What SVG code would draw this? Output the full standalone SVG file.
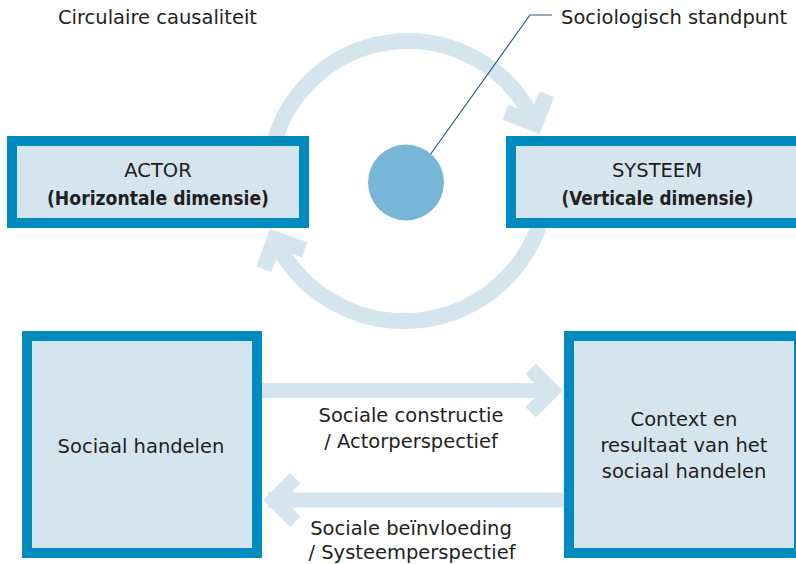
<svg xmlns="http://www.w3.org/2000/svg" width="796" height="564" viewBox="0 0 796 564">
  <style>
    .t { font-family: "DejaVu Sans", "Liberation Sans", sans-serif; font-size: 19.5px; fill: #231f20; }
    .c { text-anchor: middle; }
    .b { font-weight: bold; font-size: 19px; }
    .box { fill: #d5e5f0; stroke: #008bbf; stroke-width: 10; }
    .band { fill: none; stroke: #d5e5f0; stroke-width: 16; stroke-linejoin: miter; stroke-miterlimit: 10; }
    .hband { fill: none; stroke: #d5e5f0; stroke-width: 15; stroke-linejoin: miter; stroke-miterlimit: 10; }
  </style>
  <rect width="796" height="564" fill="#ffffff"/>
  <g id="connectors">
    <path class="band" d="M270.4,160.7 A139,139 0 0 1 535.2,123.9"/>
    <path class="band" d="M505.4,112.3 L535.2,123.9 L546.8,94.1"/>
    <path class="band" d="M543.9,207.7 A143,143 0 0 1 274.7,239.1"/>
    <path class="band" d="M263.9,269.2 L274.7,239.1 L304.8,249.9"/>
    <path class="hband" d="M262,390.5 L548,390.5"/>
    <path class="hband" d="M530.7,368.8 L552.4,390.5 L530.7,412.2"/>
    <path class="hband" d="M268,500 L564,500"/>
    <path class="hband" d="M295.3,478.3 L273.6,500 L295.3,521.7"/>
    <polyline points="430,155 530,15 552,15" fill="none" stroke="#2f5a7e" stroke-width="1.2"/>
  </g>
  <g id="label-circulaire">
    <text class="t" x="58" y="24">Circulaire causaliteit</text>
  </g>
  <g id="label-standpunt">
    <text class="t" x="561" y="24">Sociologisch standpunt</text>
  </g>
  <g id="standpunt">
    <circle cx="406" cy="182.5" r="38" fill="#77b6d7"/>
  </g>
  <g id="actor">
    <rect class="box" x="12" y="141" width="292" height="82"/>
    <text class="t c" x="158" y="177">ACTOR</text>
    <text class="t c b" x="158" y="205" textLength="222" lengthAdjust="spacingAndGlyphs">(Horizontale dimensie)</text>
  </g>
  <g id="systeem">
    <rect class="box" x="511" y="141" width="292" height="82"/>
    <text class="t c" x="657" y="177">SYSTEEM</text>
    <text class="t c b" x="657.5" y="205" textLength="192" lengthAdjust="spacingAndGlyphs">(Verticale dimensie)</text>
  </g>
  <g id="sociaal-handelen">
    <rect class="box" x="27" y="336" width="230" height="217"/>
    <text class="t c" x="141" y="453">Sociaal handelen</text>
  </g>
  <g id="context">
    <rect class="box" x="569" y="336" width="230" height="217"/>
    <text class="t c" x="684" y="426">Context en</text>
    <text class="t c" x="684" y="452">resultaat van het</text>
    <text class="t c" x="684" y="478">sociaal handelen</text>
  </g>
  <g id="label-constructie">
    <text class="t c" x="411" y="422">Sociale constructie</text>
    <text class="t c" x="411" y="448">/ Actorperspectief</text>
  </g>
  <g id="label-beinvloeding">
    <text class="t c" x="411" y="535">Sociale beïnvloeding</text>
    <text class="t c" x="412" y="559">/ Systeemperspectief</text>
  </g>
</svg>
